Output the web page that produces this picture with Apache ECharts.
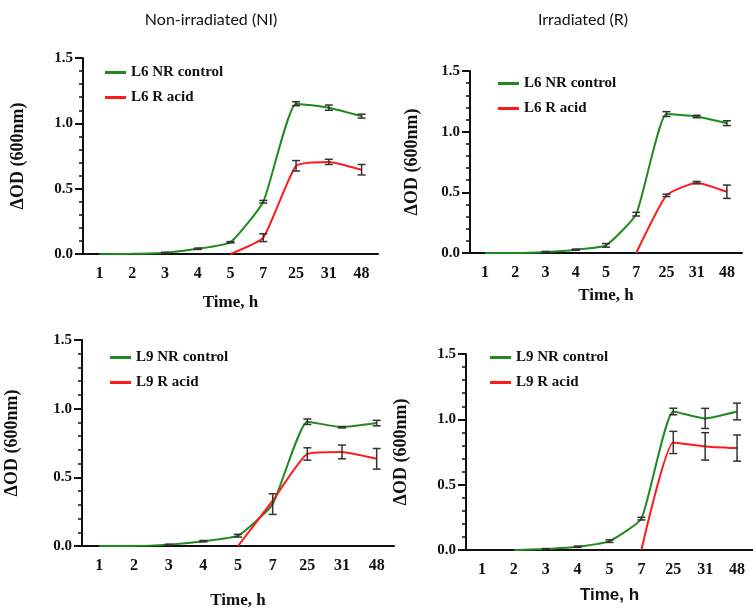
<!DOCTYPE html>
<html>
<head>
<meta charset="utf-8">
<script src="https://cdn.jsdelivr.net/npm/echarts@6/dist/echarts.min.js"></script>
<style>
  html, body { margin: 0; padding: 0; background: #fff; }
  #main { width: 753px; height: 610px; }
</style>
</head>
<body>
<div id="main"></div>
<script>
// time points (h)
var categories = ['1', '2', '3', '4', '5', '7', '25', '31', '48'];
var yTicks = [0, 0.5, 1.0, 1.5];

// L6, non-irradiated
var l6NiControl = [-0.002, 0.001, 0.01, 0.04, 0.09, 0.40, 1.15, 1.12, 1.055];
var l6NiControlErr = [0, 0, 0.003, 0.005, 0.005, 0.01, 0.015, 0.02, 0.015];
var l6NiAcid = [null, null, null, null, 0, 0.125, 0.675, 0.705, 0.645];
var l6NiAcidErr = [0, 0, 0, 0, 0, 0.03, 0.04, 0.02, 0.04];

// L6, irradiated
var l6RControl = [0, 0, 0.008, 0.027, 0.063, 0.32, 1.145, 1.125, 1.07];
var l6RControlErr = [0, 0, 0.005, 0.005, 0.015, 0.015, 0.02, 0.01, 0.02];
var l6RAcid = [null, null, null, null, null, 0, 0.475, 0.58, 0.505];
var l6RAcidErr = [0, 0, 0, 0, 0, 0, 0.01, 0.01, 0.055];

// L9, non-irradiated
var l9NiControl = [0, 0, 0.01, 0.035, 0.075, 0.305, 0.905, 0.865, 0.895];
var l9NiControlErr = [0, 0, 0.003, 0.005, 0.01, 0.075, 0.02, 0.005, 0.02];
var l9NiAcid = [null, null, null, null, 0, 0.33, 0.67, 0.685, 0.635];
var l9NiAcidErr = [0, 0, 0, 0, 0, 0, 0.045, 0.05, 0.075];

// L9, irradiated
var l9RControl = [null, -0.002, 0.008, 0.025, 0.068, 0.24, 1.06, 1.007, 1.06];
var l9RControlErr = [0, 0, 0.003, 0.005, 0.01, 0.01, 0.025, 0.077, 0.064];
var l9RAcid = [null, null, null, null, null, 0, 0.823, 0.793, 0.78];
var l9RAcidErr = [0, 0, 0, 0, 0, 0, 0.085, 0.105, 0.1];

var GREEN = '#1f8a1f';
var RED = '#ff1a1a';
var SERIF = '"Liberation Serif", "Times New Roman", serif';
var SANS = '"Liberation Sans", Arial, sans-serif';

// panel layout: grid box + label gaps
var panels = [
    { grid: { left: 83, top: 58, width: 295, height: 196 }, legend: { left: 100, top: 60 }, xGap: 40, yGap: 56,
      names: ['L6 NR control', 'L6 R acid'], control: l6NiControl, controlErr: l6NiControlErr, acid: l6NiAcid, acidErr: l6NiAcidErr },
    { grid: { left: 470, top: 71, width: 272, height: 182 }, legend: { left: 493, top: 71 }, xGap: 34, yGap: 49,
      names: ['L6 NR control', 'L6 R acid'], control: l6RControl, controlErr: l6RControlErr, acid: l6RAcid, acidErr: l6RAcidErr },
    { grid: { left: 82, top: 340, width: 312, height: 207 }, legend: { left: 105, top: 345 }, xGap: 46, yGap: 61,
      names: ['L9 NR control', 'L9 R acid'], control: l9NiControl, controlErr: l9NiControlErr, acid: l9NiAcid, acidErr: l9NiAcidErr },
    { grid: { left: 466, top: 354, width: 293, height: 196 }, legend: { left: 485, top: 345 }, xGap: 37, yGap: 56,
      xNameFont: SANS,
      names: ['L9 NR control', 'L9 R acid'], control: l9RControl, controlErr: l9RControlErr, acid: l9RAcid, acidErr: l9RAcidErr }
];

function errData(values, errs) {
    var out = [];
    for (var i = 0; i < values.length; i++) {
        if (values[i] === null || !errs[i]) continue;
        out.push([i, values[i] - errs[i], values[i] + errs[i]]);
    }
    return out;
}

function renderErr(params, api) {
    var lo = api.coord([api.value(0), api.value(1)]);
    var hi = api.coord([api.value(0), api.value(2)]);
    var w = 4;
    var style = { stroke: '#333', lineWidth: 1.5 };
    return {
        type: 'group',
        children: [
            { type: 'line', shape: { x1: lo[0], y1: lo[1], x2: hi[0], y2: hi[1] }, style: style },
            { type: 'line', shape: { x1: lo[0] - w, y1: lo[1], x2: lo[0] + w, y2: lo[1] }, style: style },
            { type: 'line', shape: { x1: hi[0] - w, y1: hi[1], x2: hi[0] + w, y2: hi[1] }, style: style }
        ]
    };
}

var titleStyle = { fontFamily: 'Lato, "Open Sans", sans-serif', fontWeight: 'normal', fontSize: 16, color: '#111' };

var option = {
    animation: false,
    backgroundColor: '#fff',
    title: [
        { text: 'Non-irradiated (NI)', left: 206, top: 7, textAlign: 'center', textStyle: titleStyle },
        { text: 'Irradiated (R)', left: 578, top: 7, textAlign: 'center', textStyle: titleStyle }
    ],
    grid: [], xAxis: [], yAxis: [], legend: [], series: []
};

panels.forEach(function (p, k) {
    option.grid.push(p.grid);
    option.xAxis.push({
        type: 'category', gridIndex: k, data: categories, boundaryGap: true,
        name: 'Time, h', nameLocation: 'middle', nameGap: p.xGap,
        nameTextStyle: { fontFamily: p.xNameFont || SERIF, fontWeight: 'bold', fontSize: 17, color: '#111' },
        axisLine: { lineStyle: { color: '#111', width: 2 } },
        axisTick: { alignWithLabel: true, length: 6, lineStyle: { color: '#111', width: 2 } },
        axisLabel: { fontFamily: SERIF, fontWeight: 'bold', fontSize: 16, color: '#111', margin: 12 },
        splitLine: { show: false }
    });
    option.yAxis.push({
        type: 'value', gridIndex: k, min: yTicks[0], max: yTicks[yTicks.length - 1], interval: 0.5,
        name: 'ΔOD (600nm)', nameLocation: 'middle', nameGap: p.yGap, nameRotate: 90,
        nameTextStyle: { fontFamily: SERIF, fontWeight: 'bold', fontSize: 18, color: '#111' },
        axisLine: { show: true, lineStyle: { color: '#111', width: 2 } },
        axisTick: { show: true, length: 8, lineStyle: { color: '#111', width: 2 } },
        minorTick: { show: true, splitNumber: 5, length: 4, lineStyle: { color: '#111', width: 1.5 } },
        axisLabel: { fontFamily: SERIF, fontWeight: 'bold', fontSize: 15, color: '#111', margin: 10,
                     formatter: function (v) { return v.toFixed(1); } },
        splitLine: { show: false }
    });
    option.legend.push({
        orient: 'vertical', left: p.legend.left, top: p.legend.top,
        data: p.names, icon: 'rect', itemWidth: 21, itemHeight: 3, itemGap: 10, itemStyle: { borderWidth: 0 },
        textStyle: { fontFamily: SERIF, fontWeight: 'bold', fontSize: 15, lineHeight: 14, color: '#111' },
        selectedMode: false
    });
    var lines = [[p.names[0], p.control, p.controlErr, GREEN], [p.names[1], p.acid, p.acidErr, RED]];
    lines.forEach(function (l) {
        option.series.push({
            name: l[0], type: 'line', xAxisIndex: k, yAxisIndex: k, data: l[1],
            smooth: 0.15, symbol: 'none', clip: true,
            lineStyle: { color: l[3], width: 2 }, itemStyle: { color: l[3] }, z: 2
        });
    });
    lines.forEach(function (l) {
        option.series.push({
            type: 'custom', xAxisIndex: k, yAxisIndex: k, renderItem: renderErr,
            data: errData(l[1], l[2]), z: 3, silent: true
        });
    });
});

var chart = echarts.init(document.getElementById('main'));
chart.setOption(option);
</script>
</body>
</html>
